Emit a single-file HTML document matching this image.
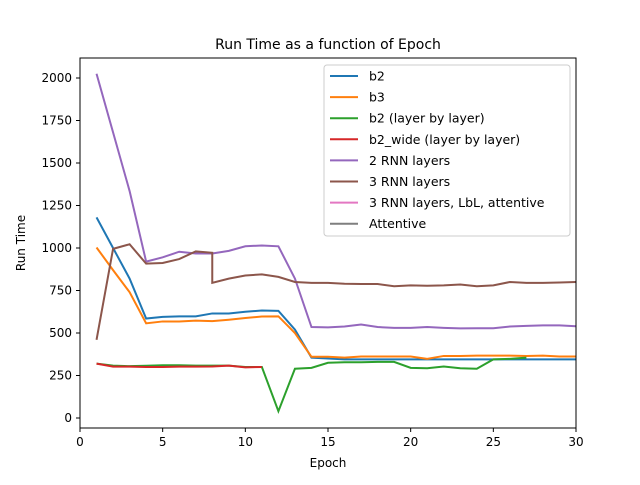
<!DOCTYPE html>
<html><head><meta charset="utf-8"><style>
body{margin:0;background:#fff;}
text{font-family:"DejaVu Sans","Liberation Sans",sans-serif;}
</style></head><body>
<svg id="chart" width="640" height="480" xmlns="http://www.w3.org/2000/svg">
<rect width="640" height="480" fill="#fff"/>
<text x="328" y="49" text-anchor="middle" font-size="14">Run Time as a function of Epoch</text>
<g id="axes"></g>
<g id="series"></g>
<rect x="80" y="58" width="496" height="370" fill="none" stroke="#000" stroke-width="1"/>
<g id="legend"></g>
<text x="328" y="467" text-anchor="middle" font-size="12">Epoch</text>
<text transform="translate(25,243) rotate(-90)" text-anchor="middle" font-size="12">Run Time</text>
</svg>
<script>
const xTicks=[0,5,10,15,20,25,30];
const yTicks=[0,250,500,750,1000,1250,1500,1750,2000];
const seriesNames=["b2","b3","b2 (layer by layer)","b2_wide (layer by layer)","2 RNN layers","3 RNN layers","3 RNN layers, LbL, attentive","Attentive"];
const seriesColors=["#1f77b4","#ff7f0e","#2ca02c","#d62728","#9467bd","#8c564b","#e377c2","#7f7f7f"];
const epochs30=[1,2,3,4,5,6,7,8,9,10,11,12,13,14,15,16,17,18,19,20,21,22,23,24,25,26,27,28,29,30];
const b2=[1180,1000,820,585,595,598,598,615,615,625,632,630,520,355,350,345,345,345,345,345,345,345,345,345,345,345,345,345,345,345];
const b3=[1003,870,740,557,568,568,573,570,578,588,597,598,500,360,360,355,362,362,362,362,348,365,365,367,367,367,365,367,362,362];
const epochsGreen=[1,2,3,4,5,6,7,8,9,10,11,12,13,14,15,16,17,18,19,20,21,22,23,24,25,26,27];
const b2lbl=[320,308,305,307,310,310,308,308,308,300,300,40,290,295,325,328,328,330,330,295,293,303,293,290,345,348,355];
const epochsRed=[1,2,3,4,5,6,7,8,9,10,11];
const b2wide=[320,302,302,300,300,302,302,303,308,298,300];
const rnn2=[2025,1680,1335,920,945,978,968,968,983,1010,1015,1010,820,535,533,538,550,535,530,530,535,530,527,528,528,538,542,545,545,540];
const epochsBrown=[1,2,3,4,5,6,7,8,8,9,10,11,12,13,14,15,16,17,18,19,20,21,22,23,24,25,26,27,28,29,30];
const rnn3=[460,995,1022,908,912,935,980,972,795,820,838,845,830,800,795,795,790,788,788,775,780,778,780,785,775,780,800,795,795,797,800];
const seriesX=[epochs30,epochs30,epochsGreen,epochsRed,epochs30,epochsBrown,[],[]];
const seriesY=[b2,b3,b2lbl,b2wide,rnn2,rnn3,[],[]];
const NS="http://www.w3.org/2000/svg";
const X=v=>80+v*(496/30);
const Y=v=>418-v*0.17;
const axes=document.getElementById('axes');
xTicks.forEach(t=>{
 const l=document.createElementNS(NS,'line');
 l.setAttribute('x1',X(t));l.setAttribute('x2',X(t));l.setAttribute('y1',428);l.setAttribute('y2',432);l.setAttribute('stroke','#000');
 
 
 axes.appendChild(l);
 const tx=document.createElementNS(NS,'text');
 tx.setAttribute('x',X(t));tx.setAttribute('y',446);tx.setAttribute('text-anchor','middle');tx.setAttribute('font-size','12');tx.textContent=t;
 
 
 axes.appendChild(tx);
});
yTicks.forEach(t=>{
 const l=document.createElementNS(NS,'line');
 l.setAttribute('x1',76);l.setAttribute('x2',80);l.setAttribute('y1',Y(t));l.setAttribute('y2',Y(t));l.setAttribute('stroke','#000');
 
 
 axes.appendChild(l);
 const tx=document.createElementNS(NS,'text');
 tx.setAttribute('x',72);tx.setAttribute('y',Y(t)+4);tx.setAttribute('text-anchor','end');tx.setAttribute('font-size','12');tx.textContent=t;
 
 
 axes.appendChild(tx);
});
const sg=document.getElementById('series');
seriesY.forEach((ys,i)=>{
 if(!ys.length)return;
 const p=document.createElementNS(NS,'polyline');
 p.setAttribute('points',ys.map((v,j)=>X(seriesX[i][j])+','+Y(v)).join(' '));
 p.setAttribute('fill','none');p.setAttribute('stroke',seriesColors[i]);p.setAttribute('stroke-width','2');
 
 
 sg.appendChild(p);
});
const lg=document.getElementById('legend');
const box=document.createElementNS(NS,'rect');
box.setAttribute('x',324);box.setAttribute('y',65);box.setAttribute('width',246);box.setAttribute('height',171);box.setAttribute('rx',3);
box.setAttribute('fill','#fff');box.setAttribute('fill-opacity','0.8');box.setAttribute('stroke','#ccc');


lg.appendChild(box);
seriesNames.forEach((n,i)=>{
 const y=76+i*21.1;
 const l=document.createElementNS(NS,'line');
 l.setAttribute('x1',330);l.setAttribute('x2',358);l.setAttribute('y1',y);l.setAttribute('y2',y);l.setAttribute('stroke',seriesColors[i]);l.setAttribute('stroke-width','2');
 
 
 lg.appendChild(l);
 const t=document.createElementNS(NS,'text');
 t.setAttribute('x',369);t.setAttribute('y',y+4.5);t.setAttribute('font-size','12.5');t.textContent=n;
 
 
 lg.appendChild(t);
});
</script>
</body></html>
